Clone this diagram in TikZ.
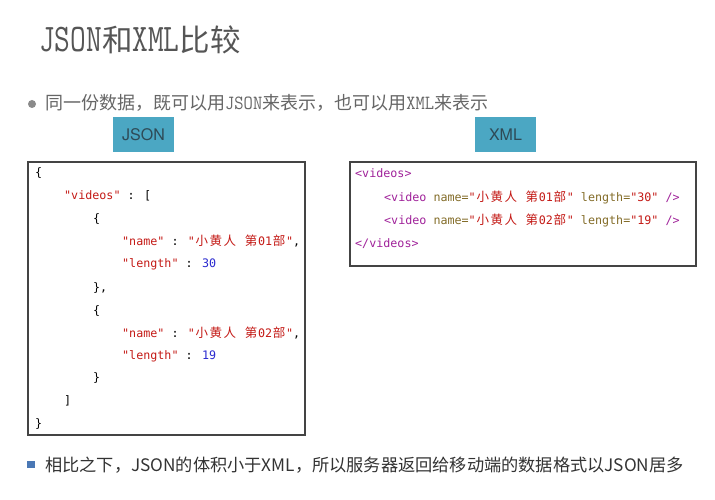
\documentclass[tikz,border=0pt]{standalone}
\usepackage{fontspec}
\newfontfamily\cjk{Noto Sans CJK SC}
\newfontfamily\codefont{DejaVu Sans Mono}
\newfontfamily\heros{TeX Gyre Heros}
\definecolor{titlegray}{HTML}{555555}
\definecolor{textgray}{HTML}{666666}
\definecolor{dotgray}{HTML}{8A8A8A}
\definecolor{darktext}{HTML}{333333}
\definecolor{labelblue}{HTML}{4BA7C3}
\definecolor{labeltext}{HTML}{2E4A56}
\definecolor{boxline}{HTML}{444444}
\definecolor{jred}{HTML}{C41A16}
\definecolor{jblue}{HTML}{2A2ACF}
\definecolor{xpurple}{HTML}{A0229A}
\definecolor{xolive}{HTML}{836C28}
\definecolor{sqblue}{HTML}{4A78B5}
\newcommand\cc[1]{\makebox[14pt]{\cjk\fontsize{12.5}{12.5}\selectfont #1}}
\newcommand\vidA{\cc{小}\cc{黄}\cc{人} \cc{第}01\cc{部}}
\newcommand\vidB{\cc{小}\cc{黄}\cc{人} \cc{第}02\cc{部}}
\newcommand\tc[1]{{\cjk #1}}
\newcommand\tl[1]{\scalebox{1}[1.28]{#1}}
\newcommand\bl[1]{\scalebox{1}[1.12]{#1}}
\begin{document}
\begin{tikzpicture}[x=1pt,y=-1pt,
  codeline/.style={anchor=base west,inner sep=0pt,font=\codefont\fontsize{11.7}{12}\selectfont},
  labelbox/.style={fill=labelblue,minimum width=61pt,minimum height=35pt,inner sep=0pt,
    text=labeltext,font=\heros\fontsize{16}{16}\selectfont},
  codebox/.style={draw=boxline,line width=1.2pt,inner sep=0pt}]
\path[use as bounding box,fill=white] (0,0) rectangle (715,500);
% title
\node[anchor=base west,inner sep=0pt,text=titlegray] (title) at (39,52)
  {\fontsize{30.5}{31}\selectfont\ttfamily \tl{JSON}\tc{和}\tl{XML}\tc{比较}};
% bullet 1
\node[circle,fill=dotgray,minimum size=8pt,inner sep=0pt] (dot1) at (32,104) {};
\node[anchor=base west,inner sep=0pt,text=textgray] (line1) at (45,110)
  {\fontsize{18}{18}\selectfont\ttfamily \tc{同一份数据，既可以用}\bl{JSON}\tc{来表示，也可以用}\bl{XML}\tc{来表示}};
% labels
\node[labelbox] (jsonlabel) at (143.5,134.5) {JSON};
\node[labelbox] (xmllabel) at (505.5,134.5) {XML};
% boxes
\node[codebox,minimum width=277pt,minimum height=273pt] (jsonbox) at (166.5,298.5) {};
\node[codebox,minimum width=346pt,minimum height=104pt] (xmlbox) at (523,214) {};
% JSON code
\node[codeline] (j1) at (35,176.5) {\{};
\node[codeline] (j2) at (64,199.5) {\textcolor{jred}{"videos"} : [};
\node[codeline] (j3) at (93,222) {\{};
\node[codeline] (j4) at (122,245) {\textcolor{jred}{"name"} : \textcolor{jred}{"\vidA"},};
\node[codeline] (j5) at (122,267.5) {\textcolor{jred}{"length"} : \textcolor{jblue}{30}};
\node[codeline] (j6) at (93,291) {\},};
\node[codeline] (j7) at (93,314) {\{};
\node[codeline] (j8) at (122,337) {\textcolor{jred}{"name"} : \textcolor{jred}{"\vidB"},};
\node[codeline] (j9) at (122,359.5) {\textcolor{jred}{"length"} : \textcolor{jblue}{19}};
\node[codeline] (j10) at (93,381.5) {\}};
\node[codeline] (j11) at (64,404.5) {]};
\node[codeline] (j12) at (35,427) {\}};
% XML code
\node[codeline] (x1) at (355,178) {\textcolor{xpurple}{<videos>}};
\node[codeline] (x2) at (384,201) {\textcolor{xpurple}{<video} \textcolor{xolive}{name=}\textcolor{jred}{"\vidA"} \textcolor{xolive}{length=}\textcolor{jred}{"30"} \textcolor{xpurple}{/>}};
\node[codeline] (x3) at (384,224) {\textcolor{xpurple}{<video} \textcolor{xolive}{name=}\textcolor{jred}{"\vidB"} \textcolor{xolive}{length=}\textcolor{jred}{"19"} \textcolor{xpurple}{/>}};
\node[codeline] (x4) at (355,247) {\textcolor{xpurple}{</videos>}};
% bullet 2
\node[fill=sqblue,minimum size=7.5pt,inner sep=0pt] (sq2) at (31,464.5) {};
\node[anchor=base west,inner sep=0pt,text=darktext] (line2) at (45,471)
  {\cjk\fontsize{17.2}{18}\selectfont 相比之下，JSON的体积小于XML，所以服务器返回给移动端的数据格式以JSON居多};
\end{tikzpicture}
\end{document}
